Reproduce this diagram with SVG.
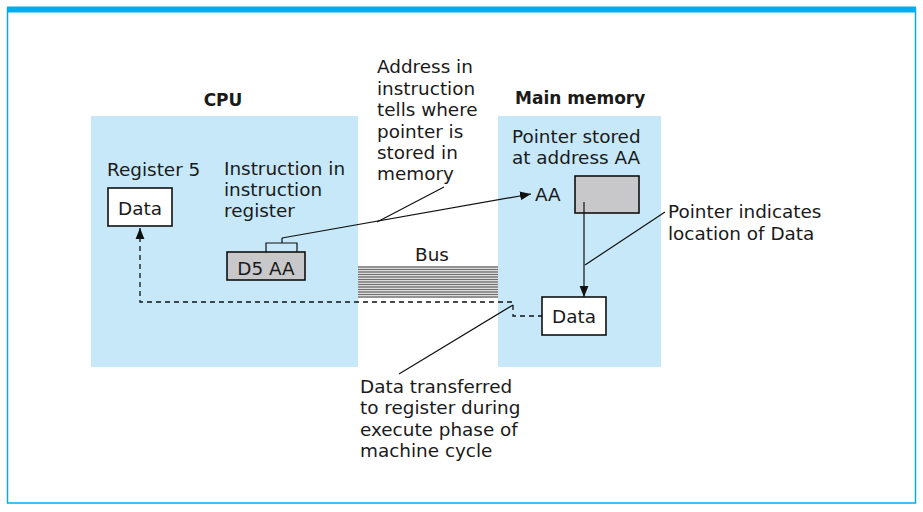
<svg xmlns="http://www.w3.org/2000/svg" width="923" height="512" viewBox="0 0 923 512">
<defs>
<marker id="arr" viewBox="0 0 11 10" refX="11" refY="5" markerWidth="11" markerHeight="10" markerUnits="userSpaceOnUse" orient="auto-start-reverse">
<path d="M0,0.6 L11,5 L0,9.4 Z" fill="#111"/>
</marker>
</defs>
<style>
text{font-family:"DejaVu Sans","Liberation Sans",sans-serif;font-size:18.4px;fill:#1a1a1a}
.b{font-weight:bold;font-size:17px}
.m{text-anchor:middle}
.panel{fill:#c6e8f8}
.box{fill:#fff;stroke:#111;stroke-width:1.6}
.gbox{fill:#c8c8ca;stroke:#111;stroke-width:1.6}
.ln{fill:none;stroke:#111;stroke-width:1.2}
.dash{fill:none;stroke:#111;stroke-width:1.3;stroke-dasharray:5 4}
.bus line{stroke:#6f6f6f;stroke-width:1.3}
</style>
<rect width="923" height="512" fill="#fff"/>
<rect x="7.5" y="9" width="908" height="494" fill="none" stroke="#00aeef" stroke-width="1.5"/>
<rect x="7" y="6.5" width="909" height="6" fill="#00aeef"/>
<g id="cpu">
<rect class="panel" x="91" y="116" width="267" height="251"/>
<text class="b m" x="223" y="106">CPU</text>
</g>
<g id="memory">
<rect class="panel" x="498" y="116" width="163" height="251"/>
<text class="b" x="515" y="104">Main memory</text>
<text x="512" y="143">Pointer stored</text>
<text x="512" y="164">at address AA</text>
</g>
<g id="register5">
<text x="107" y="176">Register 5</text>
<rect class="box" x="108" y="188" width="64" height="38"/>
<text class="m" x="140" y="215">Data</text>
</g>
<g id="instruction">
<text x="224" y="175">Instruction in</text>
<text x="224" y="196">instruction</text>
<text x="224" y="217">register</text>
<rect class="gbox" x="227" y="252" width="78" height="28"/>
<text class="m" x="266" y="275">D5 AA</text>
<path class="ln" d="M266,252 V243 H297 V252 M282,243 V238"/>
</g>
<g id="bus">
<text class="m" x="432" y="261">Bus</text>
<g class="bus">
<line x1="358" y1="267" x2="498" y2="267"/>
<line x1="358" y1="269.5" x2="498" y2="269.5"/>
<line x1="358" y1="272" x2="498" y2="272"/>
<line x1="358" y1="274.5" x2="498" y2="274.5"/>
<line x1="358" y1="277" x2="498" y2="277"/>
<line x1="358" y1="279.5" x2="498" y2="279.5"/>
<line x1="358" y1="282" x2="498" y2="282"/>
<line x1="358" y1="284.5" x2="498" y2="284.5"/>
<line x1="358" y1="287" x2="498" y2="287"/>
<line x1="358" y1="289.5" x2="498" y2="289.5"/>
<line x1="358" y1="292" x2="498" y2="292"/>
<line x1="358" y1="294.5" x2="498" y2="294.5"/>
<line x1="358" y1="297" x2="498" y2="297"/>
</g>
</g>
<g id="aa">
<text x="535" y="201">AA</text>
<rect class="gbox" x="575" y="176" width="64" height="37"/>
</g>
<g id="memdata">
<rect class="box" x="542" y="297" width="64" height="38"/>
<text class="m" x="574" y="323">Data</text>
</g>
<g id="note-address">
<text x="377" y="73">Address in</text>
<text x="377" y="95">instruction</text>
<text x="377" y="116">tells where</text>
<text x="377" y="138">pointer is</text>
<text x="377" y="159">stored in</text>
<text x="377" y="180">memory</text>
</g>
<g id="note-pointer">
<text x="668" y="218">Pointer indicates</text>
<text x="668" y="240">location of Data</text>
</g>
<g id="note-transfer">
<text x="360" y="393">Data transferred</text>
<text x="360" y="414">to register during</text>
<text x="360" y="436">execute phase of</text>
<text x="360" y="457">machine cycle</text>
</g>
<g id="connectors">
<path class="ln" d="M282,238 L531,194" marker-end="url(#arr)"/>
<path class="ln" d="M584,202 V297" marker-end="url(#arr)"/>
<path class="dash" d="M140,228 V302 H513 V316 H542" marker-start="url(#arr)"/>
<path class="ln" d="M377,222 L444,187"/>
<path class="ln" d="M585,265 L665,212"/>
<path class="ln" d="M399,374 L513,305"/>
</g>
</svg>
